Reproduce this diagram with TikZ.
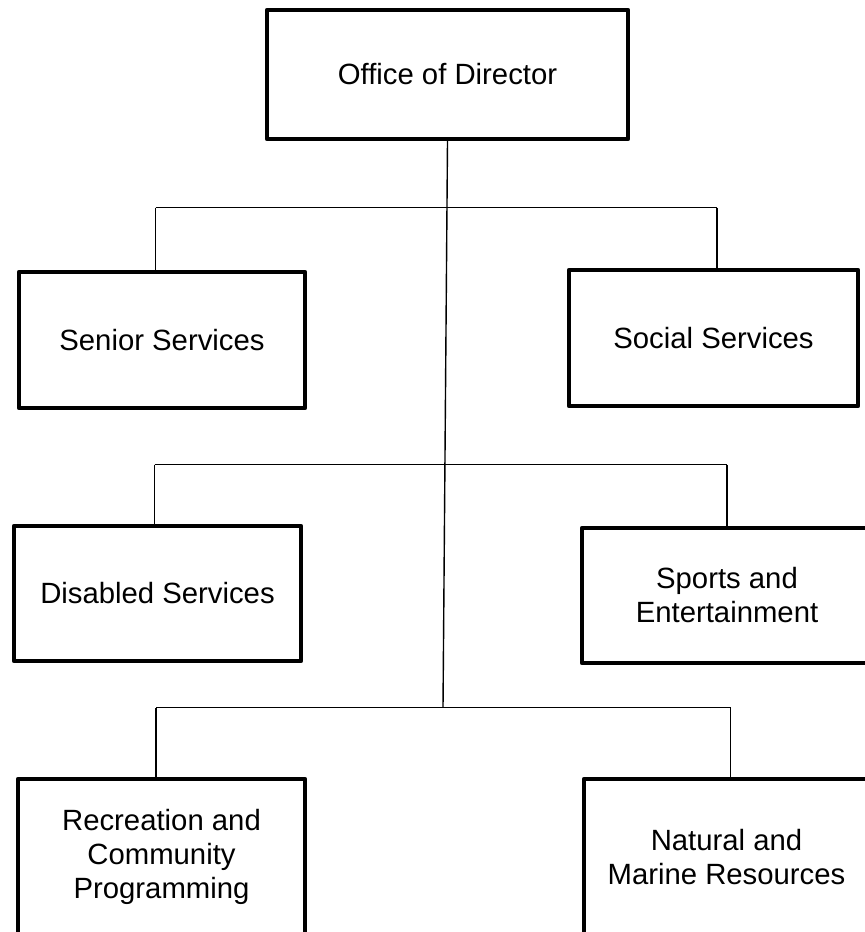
\documentclass[tikz,border=0pt]{standalone}
\usepackage{fontspec}
\setmainfont{Liberation Sans}
\begin{document}
\begin{tikzpicture}[x=1pt,y=-1pt,
  unit/.style={draw=black,line width=4.3pt,fill=white,inner sep=0pt,align=center,
    font=\fontsize{29.3}{34}\selectfont,line join=round},
  link/.style={draw=black,line width=1.4pt}]
\clip (0,0) rectangle (865,932);
\fill[white] (0,0) rectangle (865,932);
\node[unit,minimum width=361pt,minimum height=129pt] (dir) at (447.5,74.5) {Office of Director};
\node[unit,minimum width=286pt,minimum height=136pt] (senior) at (162,340) {Senior Services};
\node[unit,minimum width=289pt,minimum height=136pt] (social) at (713.5,338) {Social Services};
\node[unit,minimum width=287pt,minimum height=135pt] (disabled) at (157.5,593.5) {Disabled Services};
\node[unit,minimum width=290pt,minimum height=135pt] (sports) at (727,595.5) {Sports and\\Entertainment};
\node[unit,minimum width=287pt,minimum height=156pt] (recr) at (161.5,857) {Recreation and\\Community\\Programming};
\node[unit,minimum width=285pt,minimum height=156pt] (natural) at (726.5,857) {Natural and\\Marine Resources};
\coordinate (l1) at (155.5,207.5);
\coordinate (r1) at (717,207.5);
\coordinate (l2) at (154.5,464.5);
\coordinate (r2) at (727,464.5);
\coordinate (l3) at (156,707.5);
\coordinate (r3) at (730.5,707.5);
\coordinate (spineend) at (443,707.5);
\draw[link] (dir.south) -- (spineend);
\draw[link] (l1) -- (r1);
\draw[link] (l2) -- (r2);
\draw[link] (l3) -- (r3);
\draw[link] (l1) -- (l1 |- senior.north);
\draw[link] (r1) -- (r1 |- social.north);
\draw[link] (l2) -- (l2 |- disabled.north);
\draw[link] (r2) -- (r2 |- sports.north);
\draw[link] (l3) -- (l3 |- recr.north);
\draw[link] (r3) -- (r3 |- natural.north);
\end{tikzpicture}
\end{document}
